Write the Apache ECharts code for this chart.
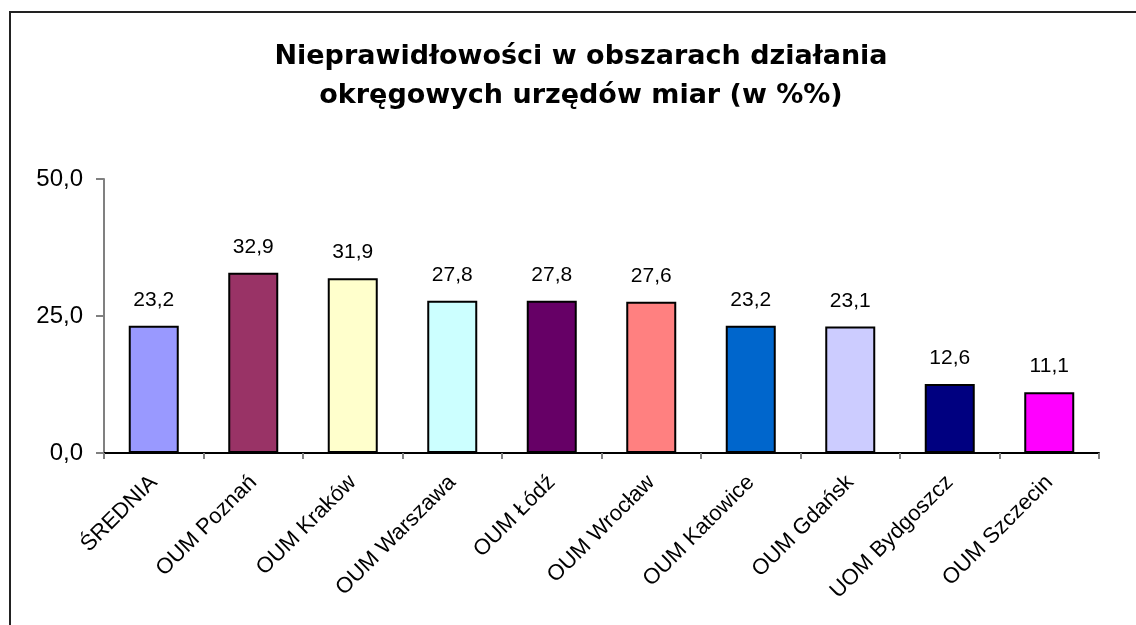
<!DOCTYPE html>
<html>
<head>
<meta charset="utf-8">
<script src="https://cdn.jsdelivr.net/npm/echarts@6/dist/echarts.min.js"></script>
<style>
    html, body { margin: 0; padding: 0; background: #fff; }
    #chart { width: 1136px; height: 625px; }
</style>
</head>
<body>
<div id="chart"></div>
<script>
const categories = ['ŚREDNIA', 'OUM Poznań', 'OUM Kraków', 'OUM Warszawa', 'OUM Łódź',
    'OUM Wrocław', 'OUM Katowice', 'OUM Gdańsk', 'UOM Bydgoszcz', 'OUM Szczecin']
const values = [23.2, 32.9, 31.9, 27.8, 27.8, 27.6, 23.2, 23.1, 12.6, 11.1]
const barColors = ['#9999FF', '#993366', '#FFFFCC', '#CCFFFF', '#660066',
    '#FF8080', '#0066CC', '#CCCCFF', '#000080', '#FF00FF']

const fmt = v => v.toFixed(1).replace('.', ',')

let chart = echarts.init(document.getElementById('chart'))
chart.setOption({
    backgroundColor: '#fff',
    animation: false,
    textStyle: { fontFamily: 'Liberation Sans, Arial, sans-serif' },
    title: {
        text: 'Nieprawidłowości w obszarach działania\nokręgowych urzędów miar (w %%)',
        left: 576,
        top: 32,
        textAlign: 'center',
        textStyle: {
            fontSize: 27,
            fontWeight: 'bold',
            color: '#000',
            lineHeight: 39,
            fontFamily: 'DejaVu Sans, sans-serif'
        }
    },
    graphic: [
        {
            type: 'polyline',
            shape: { points: [[10, 625], [10, 12], [1136, 12]] },
            style: { stroke: '#222', lineWidth: 2, fill: null }
        }
    ],
    grid: { left: 104, right: 37, top: 179, bottom: 172 },
    xAxis: {
        type: 'category',
        data: categories,
        axisLine: { lineStyle: { color: '#000', width: 2 } },
        axisTick: { show: true, length: 6, lineStyle: { color: '#808080', width: 2 } },
        axisLabel: {
            rotate: 45,
            interval: 0,
            margin: 26,
            fontSize: 22,
            color: '#000'
        }
    },
    yAxis: {
        type: 'value',
        min: 0,
        max: 50,
        interval: 25,
        splitLine: { show: false },
        axisLine: { show: true, lineStyle: { color: '#808080', width: 2 } },
        axisTick: { show: true, inside: false, length: 8, lineStyle: { color: '#808080', width: 2 } },
        axisLabel: {
            margin: 21,
            fontSize: 24,
            color: '#000',
            formatter: v => fmt(v)
        }
    },
    series: [
        {
            type: 'bar',
            barWidth: 50,
            data: values.map((v, i) => ({
                value: v,
                itemStyle: { color: barColors[i] }
            })),
            itemStyle: { borderColor: '#000', borderWidth: 2 },
            label: {
                show: true,
                position: 'top',
                distance: 15,
                fontSize: 21,
                color: '#000',
                formatter: p => fmt(p.value)
            }
        }
    ]
})
</script>
</body>
</html>
